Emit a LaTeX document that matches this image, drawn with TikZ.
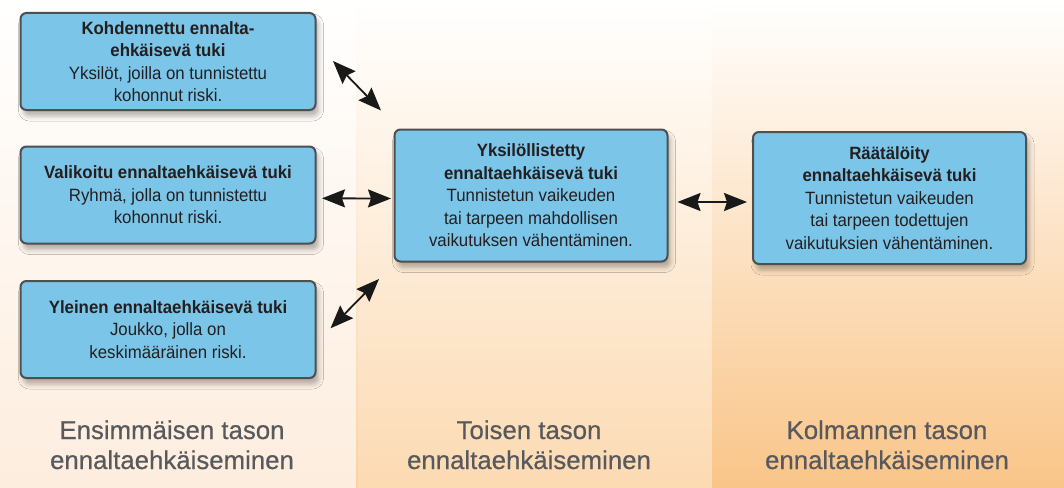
\documentclass[tikz,border=0pt]{standalone}
\usepackage{fontspec}
\setmainfont{Liberation Sans}
\newfontfamily\boxfont[FakeStretch=0.945]{Liberation Sans}
\newfontfamily\tierfont[FakeBold=0.5]{Liberation Sans}
\usetikzlibrary{arrows.meta,calc,shadows.blur}
\definecolor{boxblue}{HTML}{7BC5E8}
\definecolor{boxline}{HTML}{4E4F51}
\definecolor{boxtext}{HTML}{231F20}
\definecolor{labgray}{HTML}{58595C}
\definecolor{cAm}{HTML}{FFF9F3}
\definecolor{cAb}{HTML}{FDEDDE}
\definecolor{cBm}{HTML}{FEF2E4}
\definecolor{cBb}{HTML}{FCDAB2}
\definecolor{cCm}{HTML}{FDEBD7}
\definecolor{cCb}{HTML}{F9C589}
\definecolor{sepc}{HTML}{FAD3A4}
\tikzset{
  suppbox/.style={draw=boxline, line width=2pt, fill=boxblue, rounded corners=6pt,
    align=center, text=boxtext, inner sep=0pt,
    font=\boxfont\fontsize{17.8}{22.5}\selectfont,
    blur shadow={shadow xshift=3pt, shadow yshift=-6pt, shadow blur radius=5pt, shadow opacity=30}},
  smallbox/.style={suppbox, minimum width=295pt, minimum height=97pt},
  bigbox/.style={suppbox, minimum width=273pt, minimum height=132pt},
  tierlabel/.style={align=center, text=labgray, anchor=base, inner sep=0pt,
    font=\tierfont\fontsize{25.8}{30}\selectfont},
  dblarrow/.style={line width=1.8pt, draw=black!90,
    arrows={Stealth[length=23pt,width=18pt,inset=3pt]-Stealth[length=23pt,width=18pt,inset=3pt]}}
}
\begin{document}
\begin{tikzpicture}[x=1pt, y=-1pt]
\useasboundingbox (0,0) rectangle (1064,487);
% background columns
\shade[top color=white, middle color=cAm, bottom color=cAb] (0,0) rectangle (357,487);
\shade[top color=white, middle color=cBm, bottom color=cBb] (357,0) rectangle (712,487);
\shade[top color=white, middle color=cCm, bottom color=cCb] (712,0) rectangle (1064,487);
\shade[top color=white, bottom color=sepc] (356,0) rectangle (358.2,487);

% boxes
\node[smallbox] (A) at (168,61.5) {\textbf{Kohdennettu ennalta-}\\\textbf{ehkäisevä tuki}\\Yksilöt, joilla on tunnistettu\\kohonnut riski.};
\node[smallbox] (B) at (168,195) {\textbf{Valikoitu ennaltaehkäisevä tuki}\\Ryhmä, jolla on tunnistettu\\kohonnut riski.};
\node[smallbox] (C) at (168,329.5) {\textbf{Yleinen ennaltaehkäisevä tuki}\\Joukko, jolla on\\keskimääräinen riski.};
\node[bigbox] (D) at (531,195.5) {\textbf{Yksilöllistetty}\\\textbf{ennaltaehkäisevä tuki}\\Tunnistetun vaikeuden\\tai tarpeen mahdollisen\\vaikutuksen vähentäminen.};
\node[bigbox] (E) at (889.5,198) {\textbf{Räätälöity}\\\textbf{ennaltaehkäisevä tuki}\\Tunnistetun vaikeuden\\tai tarpeen todettujen\\vaikutuksien vähentäminen.};

% connectors
\draw[dblarrow] ($(A.east)+(16.5,-0.5)$) -- ($(D.north west)+(-12.5,-18)$);
\draw[dblarrow] ($(B.east)+(5.5,3.3)$) -- ($(D.west)+(-2.5,3)$);
\draw[dblarrow] ($(C.east)+(14,-1.2)$) -- ($(D.south west)+(-14.5,16.5)$);
\draw[dblarrow] ($(D.east)+(9,6.5)$) -- ($(E.west)+(-5,4)$);

% tier labels
\node[tierlabel] (L1) at (172,469) {Ensimmäisen tason\\ennaltaehkäiseminen};
\node[tierlabel] (L2) at (529,469) {Toisen tason\\ennaltaehkäiseminen};
\node[tierlabel] (L3) at (887,469) {Kolmannen tason\\ennaltaehkäiseminen};
\end{tikzpicture}
\end{document}
